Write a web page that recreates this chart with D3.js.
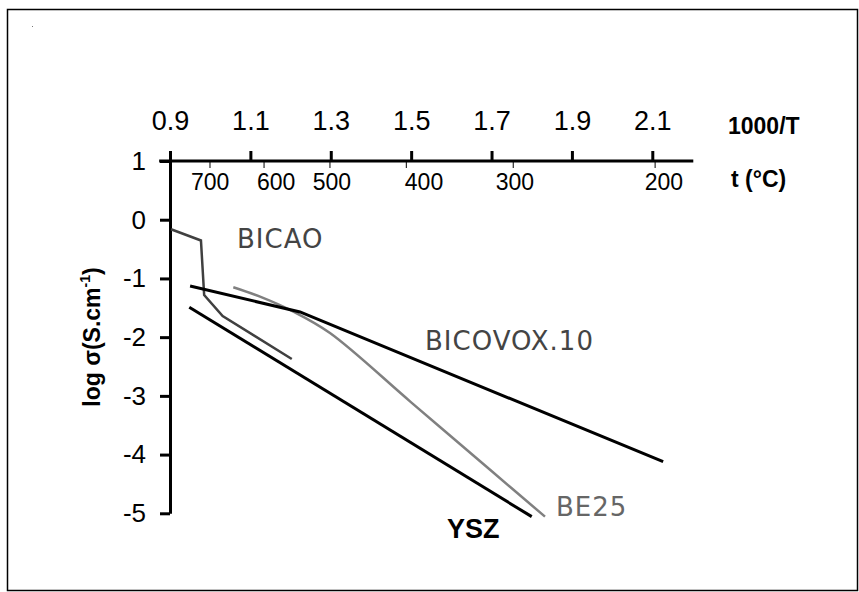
<!DOCTYPE html>
<html>
<head>
<meta charset="utf-8">
<script src="https://cdn.jsdelivr.net/npm/d3@7"></script>
<style>
  html, body { margin: 0; padding: 0; background: #fff; }
  svg { display: block; }
  .num { font-family: "Liberation Sans", Arial, sans-serif; fill: #000; }
  .bold { font-family: "Liberation Sans", Arial, sans-serif; font-weight: bold; fill: #000; }
  .comic { font-family: "DejaVu Sans", sans-serif; letter-spacing: 1px; }
</style>
</head>
<body>
<div id="chart"></div>
<script>
// 1000/T ticks (top axis) and log sigma ticks (left axis)
const invTicks = [0.9, 1.1, 1.3, 1.5, 1.7, 1.9, 2.1];
const logTicks = [1, 0, -1, -2, -3, -4, -5];

// temperature scale: tick at 1000/T, label centre at 1000/T
const tempLabels = ["700", "600", "500", "400", "300", "200"];
const tempTickAt = [0.9995, 1.134, 1.298, 1.488, 1.754, 2.107];
const tempLabelAt = [1.0, 1.164, 1.303, 1.532, 1.758, 2.129];

// curves: [1000/T, log sigma]
const bicao = [[0.9025, -0.163], [0.977, -0.354], [0.985, -1.282], [1.031, -1.64], [1.203, -2.372]];
const bicovox = [[0.95, -1.129], [1.2235, -1.571], [2.127, -4.121]];
const be25 = [[1.0575, -1.151], [1.124, -1.311], [1.207, -1.566], [1.298, -1.93], [1.5, -3.11], [1.7, -4.28], [1.833, -5.057]];
const ysz = [[0.948, -1.491], [1.80, -5.057]];

const width = 859;
const height = 592;

const x = d3.scaleLinear().domain([0.9, 2.1]).range([170, 652.3]);
const y = d3.scaleLinear().domain([-5, 1]).range([513.3, 161]);

const svg = d3
  .select("#chart")
  .append("svg")
  .attr("width", width)
  .attr("height", height);

// frame
svg
  .append("rect")
  .attr("x", 7.5)
  .attr("y", 9.5)
  .attr("width", 850)
  .attr("height", 581)
  .attr("fill", "none")
  .attr("stroke", "#000")
  .attr("stroke-width", 1.5);

svg
  .append("rect")
  .attr("x", 32)
  .attr("y", 26)
  .attr("width", 1)
  .attr("height", 1)
  .attr("fill", "#777");

// top axis (1000/T)
const topAxis = svg
  .append("g")
  .attr("transform", `translate(0, ${y(1)})`)
  .call(
    d3
      .axisTop(x)
      .tickValues(invTicks)
      .tickFormat(d3.format(".1f"))
      .tickSize(10)
      .tickSizeOuter(0)
      .tickPadding(21)
  );
topAxis.select(".domain").remove();
topAxis.selectAll(".tick line").attr("stroke", "#000").attr("stroke-width", 3);
topAxis
  .selectAll(".tick text")
  .attr("class", "num")
  .style("font-size", "27px")
  .attr("fill", "#000");

svg
  .append("line")
  .attr("x1", x(0.873))
  .attr("x2", x(2.202))
  .attr("y1", y(1))
  .attr("y2", y(1))
  .attr("stroke", "#000")
  .attr("stroke-width", 3);

// temperature ticks under the top line
svg
  .selectAll(".temp-tick")
  .data(tempTickAt)
  .enter()
  .append("line")
  .attr("class", "temp-tick")
  .attr("x1", (d) => x(d))
  .attr("x2", (d) => x(d))
  .attr("y1", y(1))
  .attr("y2", y(1) + 7)
  .attr("stroke", "#000")
  .attr("stroke-width", 1);

svg
  .selectAll(".temp-label")
  .data(tempLabels)
  .enter()
  .append("text")
  .attr("class", "temp-label num")
  .attr("x", (d, i) => x(tempLabelAt[i]))
  .attr("y", 190)
  .attr("text-anchor", "middle")
  .style("font-size", "23px")
  .text((d) => d);

svg
  .append("text")
  .attr("class", "bold")
  .attr("x", 728)
  .attr("y", 134)
  .style("font-size", "23px")
  .text("1000/T");

svg
  .append("text")
  .attr("class", "bold")
  .attr("x", 731)
  .attr("y", 187)
  .style("font-size", "23px")
  .text("t (°C)");

// left axis (log sigma)
const leftAxis = svg
  .append("g")
  .attr("transform", `translate(${x(0.9)}, 0)`)
  .call(
    d3
      .axisLeft(y)
      .tickValues(logTicks)
      .tickFormat(d3.format("d"))
      .tickSize(10)
      .tickSizeOuter(0)
      .tickPadding(14)
  );
leftAxis.select(".domain").attr("stroke", "#000").attr("stroke-width", 3);
leftAxis.selectAll(".tick line").attr("stroke", "#000").attr("stroke-width", 3);
leftAxis
  .selectAll(".tick text")
  .attr("class", "num")
  .style("font-size", "26px")
  .attr("fill", "#000")
  .text((d) => String(d).replace("\u2212", "-"));

const yTitle = svg
  .append("text")
  .attr("class", "bold")
  .attr("transform", "translate(100, 337) rotate(-90)")
  .attr("text-anchor", "middle")
  .style("font-size", "23px");
yTitle.append("tspan").text("log  σ(S.cm");
yTitle.append("tspan").attr("dy", -10).style("font-size", "14px").text("-1");
yTitle.append("tspan").attr("dy", 10).text(")");

// curves
const line = d3
  .line()
  .x((d) => x(d[0]))
  .y((d) => y(d[1]));

svg
  .append("path")
  .datum(bicao)
  .attr("d", line)
  .attr("fill", "none")
  .attr("stroke", "#404040")
  .attr("stroke-width", 2.5);

svg
  .append("path")
  .datum(be25)
  .attr("d", line.curve(d3.curveCatmullRom))
  .attr("fill", "none")
  .attr("stroke", "#808080")
  .attr("stroke-width", 2.5);

line.curve(d3.curveLinear);

svg
  .append("path")
  .datum(bicovox)
  .attr("d", line)
  .attr("fill", "none")
  .attr("stroke", "#000")
  .attr("stroke-width", 3);

svg
  .append("path")
  .datum(ysz)
  .attr("d", line)
  .attr("fill", "none")
  .attr("stroke", "#000")
  .attr("stroke-width", 3);

// series labels
svg
  .append("text")
  .attr("class", "comic")
  .attr("x", 237)
  .attr("y", 248)
  .attr("fill", "#444")
  .style("font-size", "26px")
  .text("BICAO");

svg
  .append("text")
  .attr("class", "comic")
  .attr("x", 425)
  .attr("y", 350)
  .attr("fill", "#444")
  .style("font-size", "26px")
  .text("BICOVOX.10");

svg
  .append("text")
  .attr("class", "comic")
  .attr("x", 556)
  .attr("y", 516)
  .attr("fill", "#666")
  .style("font-size", "26px")
  .text("BE25");

svg
  .append("text")
  .attr("class", "bold")
  .attr("x", 447)
  .attr("y", 538)
  .style("font-size", "27px")
  .text("YSZ");
</script>
</body>
</html>
